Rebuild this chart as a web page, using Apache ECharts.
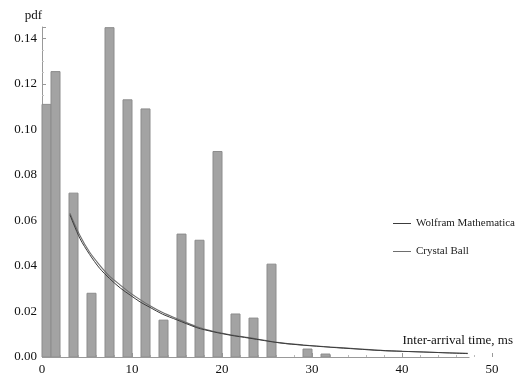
<!DOCTYPE html>
<html>
<head>
<meta charset="utf-8">
<script src="https://cdn.jsdelivr.net/npm/echarts@6/dist/echarts.min.js"></script>
<style>
  html, body { margin: 0; padding: 0; background: #fff; }
  #chart { width: 522px; height: 378px; }
</style>
</head>
<body>
<div id="chart"></div>
<script>
// Histogram of inter-arrival times (bin edges in ms, pdf value per bin)
const binStart = [0, 1, 3, 5, 7, 9, 11, 13, 15, 17, 19, 21, 23, 25, 29, 31];
const binEnd   = [1, 2, 4, 6, 8, 10, 12, 14, 16, 18, 20, 22, 24, 26, 30, 32];
const density  = [0.111, 0.1254, 0.072, 0.028, 0.1447, 0.113, 0.109, 0.0162,
                  0.054, 0.0513, 0.0903, 0.0189, 0.0171, 0.0408, 0.0035, 0.0013];

// Fitted density curves
const fitX = [3.1, 4.2, 5.3, 6.4, 7.5, 8.7, 9.8, 10.9, 12, 13.4, 15, 17.2, 19, 20.9,
              23, 26.4, 29, 32, 35, 37.6, 40, 43.1, 45, 47.3];
const wolframY = [0.0625, 0.0522, 0.045, 0.039, 0.0345, 0.0303, 0.0272, 0.0242, 0.0218,
                  0.0188, 0.0163, 0.0129, 0.0111, 0.0096, 0.0083, 0.0062, 0.0052, 0.0043,
                  0.0035, 0.0029, 0.0025, 0.0021, 0.0018, 0.0015];
const crystalY = [0.0632, 0.0535, 0.046, 0.0404, 0.0355, 0.0316, 0.0282, 0.0252, 0.0225,
                  0.0195, 0.0168, 0.0133, 0.0113, 0.0098, 0.0085, 0.0063, 0.0053, 0.0044,
                  0.0036, 0.0029, 0.0025, 0.0021, 0.0019, 0.0016];

// Axis settings
const xTicks = { min: 0, max: 50, interval: 10 };
const xPlotEnd = 47.5;
const yTicks = { min: 0, max: 0.145, interval: 0.02 };

const serif = '"Liberation Serif", "DejaVu Serif", serif';
const wolframColor = '#3c3c3c';
const crystalColor = '#6e6e6e';

const chart = echarts.init(document.getElementById('chart'), null, { renderer: 'canvas' });

chart.setOption({
  animation: false,
  backgroundColor: '#fff',
  textStyle: { fontFamily: serif },
  grid: { left: 42, right: 30, top: 27, bottom: 21, containLabel: false },
  legend: {
    orient: 'vertical',
    left: 388,
    top: 213,
    itemWidth: 18,
    itemHeight: 1,
    itemGap: 17,
    data: [
      { name: 'Wolfram Mathematica', icon: 'rect', itemStyle: { color: wolframColor } },
      { name: 'Crystal Ball', icon: 'rect', itemStyle: { color: crystalColor } }
    ],
    textStyle: { fontFamily: serif, fontSize: 11, color: '#222' }
  },
  xAxis: {
    type: 'value',
    min: xTicks.min,
    max: xTicks.max,
    interval: xTicks.interval,
    name: 'Inter-arrival time, ms',
    nameLocation: 'end',
    nameGap: 21,
    nameTextStyle: {
      fontFamily: serif, fontSize: 13, color: '#111',
      align: 'right', verticalAlign: 'bottom', padding: [0, 0, 10, 0]
    },
    axisLine: { show: false },
    axisTick: { show: true, inside: true, length: 4, lineStyle: { color: '#999' } },
    minorTick: { show: true, splitNumber: 5, length: 2, lineStyle: { color: '#bbb' } },
    splitLine: { show: false },
    axisLabel: { fontFamily: serif, fontSize: 13, color: '#111', margin: 6 }
  },
  yAxis: {
    type: 'value',
    min: yTicks.min,
    max: yTicks.max,
    interval: yTicks.interval,
    name: 'pdf',
    nameLocation: 'end',
    nameGap: 5,
    nameTextStyle: { fontFamily: serif, fontSize: 13, color: '#111', align: 'right' },
    axisLine: { show: true, lineStyle: { color: '#999', width: 1 } },
    axisTick: { show: true, inside: true, length: 4, lineStyle: { color: '#999' } },
    minorTick: { show: true, splitNumber: 4, length: 2, lineStyle: { color: '#c4c4c4' } },
    splitLine: { show: false },
    axisLabel: {
      fontFamily: serif, fontSize: 13, color: '#111', margin: 5,
      showMaxLabel: false,
      formatter: v => v.toFixed(2)
    }
  },
  series: [
    {
      name: 'histogram',
      type: 'custom',
      data: binStart.map((s, i) => [s, binEnd[i], density[i]]),
      encode: { x: [0, 1], y: 2 },
      renderItem: function (params, api) {
        const p0 = api.coord([api.value(0), api.value(2)]);
        const p1 = api.coord([api.value(1), 0]);
        return {
          type: 'rect',
          shape: { x: p0[0], y: p0[1], width: p1[0] - p0[0], height: p1[1] - p0[1] },
          style: { fill: '#a3a3a3', stroke: '#8c8c8c', lineWidth: 1 }
        };
      },
      z: 1
    },
    {
      name: 'Crystal Ball',
      type: 'line',
      data: fitX.map((x, i) => [x, crystalY[i]]),
      symbol: 'none',
      smooth: 0.3,
      lineStyle: { color: crystalColor, width: 1.1 },
      itemStyle: { color: crystalColor },
      z: 3
    },
    {
      name: 'Wolfram Mathematica',
      type: 'line',
      data: fitX.map((x, i) => [x, wolframY[i]]),
      symbol: 'none',
      smooth: 0.3,
      lineStyle: { color: wolframColor, width: 1 },
      itemStyle: { color: wolframColor },
      markLine: {
        silent: true,
        symbol: 'none',
        label: { show: false },
        lineStyle: { color: '#999', width: 1, type: 'solid' },
        data: [[{ coord: [xTicks.min, 0] }, { coord: [xPlotEnd, 0] }]]
      },
      z: 3
    }
  ]
});
</script>
</body>
</html>
